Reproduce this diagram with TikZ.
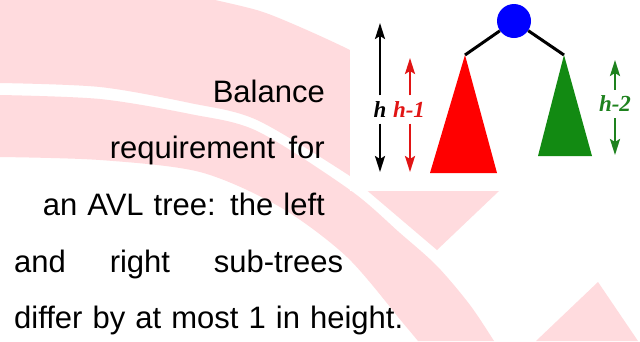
\documentclass[tikz,border=0pt]{standalone}
\usepackage{fontspec}
\newfontfamily\arial{Liberation Sans}
\newfontfamily\lblfont{Liberation Serif}
\usetikzlibrary{arrows.meta}
\definecolor{wm}{RGB}{255,219,222}
\definecolor{treered}{RGB}{255,0,0}
\definecolor{treegreen}{RGB}{18,138,18}
\definecolor{treeblue}{RGB}{0,0,255}
\definecolor{arrred}{RGB}{225,20,20}
\definecolor{arrgreen}{RGB}{30,130,30}
\begin{document}
\begin{tikzpicture}[x=1pt,y=-1pt,
  txt/.style={font=\arial\fontsize{31}{37}\selectfont, inner sep=0pt},
  lbl/.style={font=\lblfont\fontsize{23}{26}\selectfont\bfseries\itshape, inner sep=0pt, minimum height=28pt},
  dim/.style={line width=2.2pt, -{Stealth[length=16pt,width=10pt,inset=3pt]}},
  treeedge/.style={line width=3pt, black}]
\clip (0,0) rectangle (640,341);
\fill[white] (0,0) rectangle (640,341);
% watermark
\fill[wm] (0,0) -- plot[smooth] coordinates {(215,0) (260,11) (300,27) (350,50) (420,86)} -- (540,152) -- (437,250)
  -- plot[smooth] coordinates {(437,250) (370,193) (350,176) (257,120) (190,103) (100,87) (0,83)} -- cycle;
\fill[wm] plot[smooth] coordinates {(0,95) (100,99) (190,114) (257,131) (350,190) (400,233) (437,266) (470,305) (494,341)}
  -- (418,341) -- plot[smooth] coordinates {(418,341) (403,323) (347,257) (280,207) (200,172) (100,160) (0,157)} -- cycle;
\fill[wm] (598,282) -- (536,341) -- (638,341) -- cycle;
\fill[white] (350,0) rectangle (640,191);
% text
\node[txt, anchor=base east] (t1) at (325,102) {Balance};
\node[txt, anchor=base east] (t2) at (325,158) {\makebox[215pt][s]{requirement for}};
\node[txt, anchor=base east] (t3) at (325,215) {\makebox[282pt][s]{an AVL tree: the left}};
\node[txt, anchor=base west] (t4) at (14,272) {\makebox[329pt][s]{and right sub-trees}};
\node[txt, anchor=base west] (t5) at (14,328) {\makebox[389pt][s]{differ by at most 1 in height.}};
% tree
\coordinate (ra) at (465,55);
\coordinate (ga) at (564,55);
\fill[treered] (ra) -- (430,173) -- (497,173) -- cycle;
\fill[treegreen] (ga) -- (538,156) -- (592,156) -- cycle;
\node[circle, fill=treeblue, minimum size=34pt, inner sep=0pt] (root) at (514,21) {};
\draw[treeedge] (root) -- (ra);
\draw[treeedge] (root) -- (ga);
% dimension labels and arrows
\node[lbl] (lh) at (380,109.5) {h};
\node[lbl, text=arrred] (lh1) at (409,109.5) {h-1};
\node[lbl, text=arrgreen] (lh2) at (615,104) {h-2};
\coordinate (htop) at (380,23);
\coordinate (hbot) at (380,172);
\coordinate (h1top) at (410,58);
\coordinate (h1bot) at (410,172);
\coordinate (h2top) at (615,60);
\coordinate (h2bot) at (615,155);
\draw[dim, black] (lh.north) -- (htop);
\draw[dim, black] (lh.south) -- (hbot);
\draw[dim, arrred] (lh1.north -| h1top) -- (h1top);
\draw[dim, arrred] (lh1.south -| h1bot) -- (h1bot);
\draw[dim, arrgreen] (lh2.north) -- (h2top);
\draw[dim, arrgreen] (lh2.south) -- (h2bot);
\end{tikzpicture}
\end{document}
